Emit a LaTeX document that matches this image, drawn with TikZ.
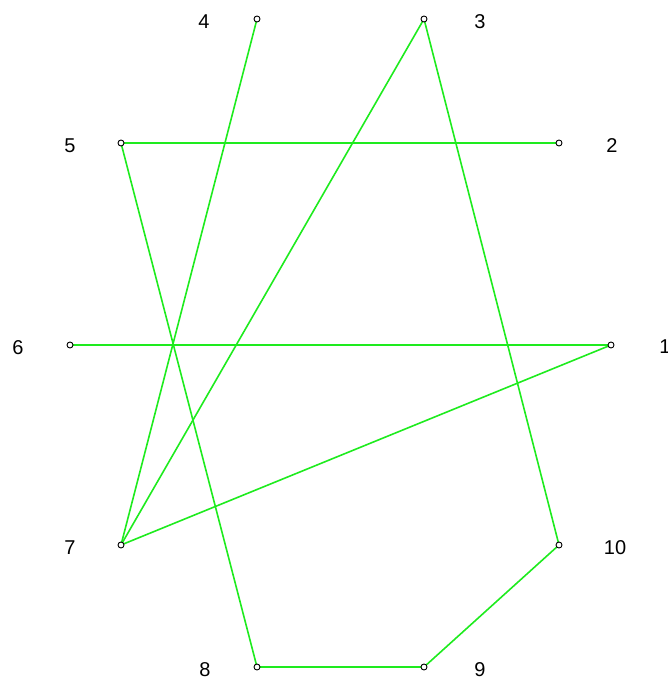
\documentclass[tikz,border=0pt]{standalone}
\usepackage{fontspec}
\setmainfont{Liberation Sans}
\definecolor{edgegreen}{RGB}{30,235,30}
\begin{document}
\begin{tikzpicture}[x=1pt,y=-1pt,
  vtx/.style={circle,draw=black,fill=white,line width=0.9pt,inner sep=0pt,minimum size=6pt},
  lbl/.style={font=\fontsize{20}{22}\selectfont,text=black,inner sep=0pt},
  edge/.style={draw=edgegreen,line width=1.6pt}]
\useasboundingbox (0,0) rectangle (667,684);
\coordinate (p1) at (611,345);
\coordinate (p2) at (559,143);
\coordinate (p3) at (424,19);
\coordinate (p4) at (257,19);
\coordinate (p5) at (121,143);
\coordinate (p6) at (70,345);
\coordinate (p7) at (121,545);
\coordinate (p8) at (257,667);
\coordinate (p9) at (424,667);
\coordinate (p10) at (559,545);
\draw[edge] (p4) -- (p7);
\draw[edge] (p3) -- (p7);
\draw[edge] (p3) -- (p10);
\draw[edge] (p5) -- (p2);
\draw[edge] (p5) -- (p8);
\draw[edge] (p6) -- (p1);
\draw[edge] (p1) -- (p7);
\draw[edge] (p10) -- (p9);
\draw[edge] (p8) -- (p9);
\foreach \i in {1,...,10} { \node[vtx] (v\i) at (p\i) {}; }
\node[lbl] (l1) at (665,347) {1};
\node[lbl] (l2) at (612,146) {2};
\node[lbl] (l3) at (480,22) {3};
\node[lbl] (l4) at (204,22) {4};
\node[lbl] (l5) at (70,146) {5};
\node[lbl] (l6) at (18,348) {6};
\node[lbl] (l7) at (70,548) {7};
\node[lbl] (l8) at (205,670) {8};
\node[lbl] (l9) at (480,670) {9};
\node[lbl] (l10) at (615,548) {10};
\end{tikzpicture}
\end{document}
